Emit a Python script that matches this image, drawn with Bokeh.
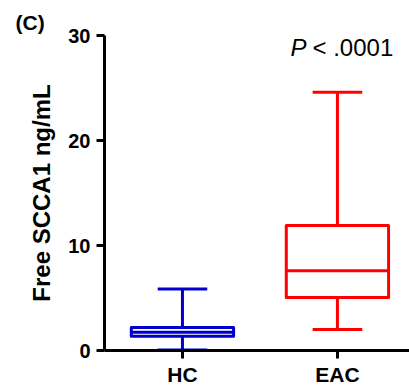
from bokeh.plotting import figure
from bokeh.models import FixedTicker, Label, Range1d
from bokeh.embed import file_html
from bokeh.resources import INLINE

groups = ["HC", "EAC"]
positions = [1, 2]
lower = [0.05, 2.0]
q1 = [1.35, 5.05]
median = [1.75, 7.6]
q3 = [2.2, 11.9]
upper = [5.85, 24.6]
colors = ["#0000CC", "#FF0000"]
y_ticks = [0, 10, 20, 30]

FONT = "Liberation Sans"
box_w = 0.66
cap_w = 0.32

p = figure(width=409, height=391, output_backend="svg", toolbar_location=None,
           x_range=Range1d(0.497, 2.465), y_range=Range1d(0, 30),
           min_border_left=104, min_border_right=0, min_border_top=35, min_border_bottom=41)
p.outline_line_color = None
p.xgrid.visible = False
p.ygrid.visible = False
p.background_fill_color = "white"

p.title.text = "(C)"
p.title.align = "left"
p.title.offset = -89
p.title.text_font = FONT
p.title.text_font_style = "bold"
p.title.text_font_size = "21px"
p.title.text_color = "black"
p.title.standoff = 4

lw = 3
# whiskers
p.segment(x0=positions, y0=lower, x1=positions, y1=q1, line_color=colors, line_width=lw)
p.segment(x0=positions, y0=q3, x1=positions, y1=upper, line_color=colors, line_width=lw)
# caps
p.segment(x0=[x - cap_w / 2 for x in positions], y0=upper,
          x1=[x + cap_w / 2 for x in positions], y1=upper, line_color=colors, line_width=lw)
p.segment(x0=[x - cap_w / 2 for x in positions], y0=lower,
          x1=[x + cap_w / 2 for x in positions], y1=lower, line_color=colors, line_width=lw)
# boxes
p.vbar(x=positions, bottom=q1, top=q3, width=box_w, fill_color="white",
       line_color=colors, line_width=lw, line_join="round")
# medians
p.segment(x0=[x - box_w / 2 for x in positions], y0=median,
          x1=[x + box_w / 2 for x in positions], y1=median, line_color=colors, line_width=lw)

for ax in (p.xaxis[0], p.yaxis[0]):
    ax.axis_line_width = 3
    ax.axis_line_color = "black"
    ax.major_tick_line_width = 3
    ax.major_tick_line_color = "black"
    ax.major_tick_in = 0
    ax.major_tick_out = 8
    ax.minor_tick_line_color = None
    ax.major_label_text_font = FONT
    ax.major_label_text_font_style = "bold"
    ax.major_label_text_color = "black"

p.xaxis.ticker = FixedTicker(ticks=positions)
p.xaxis.major_label_overrides = {pos: g for pos, g in zip(positions, groups)}
p.xaxis.major_label_text_font_size = "21px"
p.xaxis.major_label_standoff = 4

p.yaxis.ticker = FixedTicker(ticks=y_ticks)
p.yaxis.major_label_text_font_size = "20px"
p.yaxis.major_label_standoff = 6
p.yaxis.axis_label = "Free SCCA1 ng/mL"
p.yaxis.axis_label_text_font = FONT
p.yaxis.axis_label_text_font_style = "bold"
p.yaxis.axis_label_text_font_size = "24px"
p.yaxis.axis_label_text_color = "black"
p.yaxis.axis_label_standoff = 10

p.add_layout(Label(x=1.697, y=27.6, text="P", text_font=FONT, text_font_style="italic",
                   text_font_size="24px", text_color="black"))
p.add_layout(Label(x=1.839, y=27.6, text="< .0001", text_font=FONT,
                   text_font_size="24px", text_color="black"))

open("out.html", "w").write(file_html(p, INLINE))
